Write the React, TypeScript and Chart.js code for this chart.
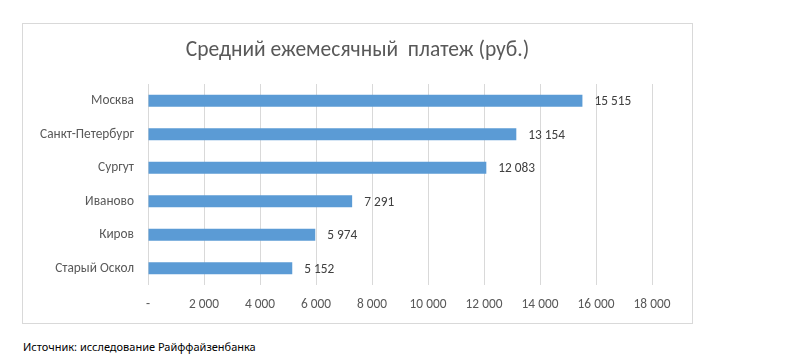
import React, { useEffect, useRef } from "react";
import { Chart, registerables } from "chart.js";

Chart.register(...registerables);

const categories = ["Москва", "Санкт-Петербург", "Сургут", "Иваново", "Киров", "Старый Оскол"];
const values = [15515, 13154, 12083, 7291, 5974, 5152];
const axisMin = 0;
const axisMax = 18000;
const axisStep = 2000;
const titleText = "Средний ежемесячный  платеж (руб.)";
const sourceText = "Источник: исследование Райффайзенбанка";

const FONT = "Calibri, Carlito, 'Open Sans', sans-serif";

const fmt = (v: number) => (v === 0 ? "-" : String(Math.round(v)).replace(/\B(?=(\d{3})+(?!\d))/g, " "));

const dataLabels = {
  id: "dataLabels",
  afterDatasetsDraw(chart: any) {
    const ctx = chart.ctx;
    const meta = chart.getDatasetMeta(0);
    ctx.save();
    ctx.font = `13.33px ${FONT}`;
    ctx.fillStyle = "#404040";
    ctx.textAlign = "left";
    ctx.textBaseline = "middle";
    meta.data.forEach((bar: any, i: number) => {
      ctx.fillText(fmt(values[i]), bar.x + 12, bar.y + 1);
    });
    ctx.restore();
  },
};

const centeredTitle = {
  id: "centeredTitle",
  afterDraw(chart: any) {
    const ctx = chart.ctx;
    ctx.save();
    ctx.font = `21.5px ${FONT}`;
    ctx.fillStyle = "#595959";
    ctx.textAlign = "center";
    ctx.textBaseline = "middle";
    ctx.fillText(titleText, chart.width / 2, 27);
    ctx.restore();
  },
};

export default function App() {
  const ref = useRef<HTMLCanvasElement | null>(null);
  useEffect(() => {
    if (!ref.current) return;
    const chart = new Chart(ref.current, {
      type: "bar",
      data: {
        labels: categories,
        datasets: [
          {
            data: values,
            backgroundColor: "#5B9BD5",
            categoryPercentage: 1,
            barPercentage: 0.36,
          },
        ],
      },
      options: {
        indexAxis: "y",
        animation: false,
        responsive: false,
        maintainAspectRatio: false,
        layout: { padding: { left: 0, right: 40, top: 60, bottom: 0 } },
        plugins: {
          legend: { display: false },
          tooltip: { enabled: false },
          title: { display: false },
        },
        scales: {
          x: {
            min: axisMin,
            max: axisMax,
            ticks: {
              stepSize: axisStep,
              color: "#595959",
              font: { family: FONT, size: 13.33 },
              padding: 12,
              callback: (v: any) => fmt(Number(v)),
              maxRotation: 0,
            },
            grid: { color: "#D9D9D9", drawTicks: false },
            border: { display: false },
            afterFit: (s: any) => {
              s.height = 38;
            },
          },
          y: {
            ticks: {
              color: "#595959",
              font: { family: FONT, size: 13.33 },
              padding: 14,
            },
            grid: { display: false, drawTicks: false },
            border: { display: false },
            afterFit: (s: any) => {
              s.width = 125;
            },
          },
        },
      },
      plugins: [dataLabels, centeredTitle],
    });
    return () => chart.destroy();
  }, []);

  return (
    <div style={{ position: "fixed", left: 0, top: 0, width: 792, height: 358, background: "#fff" }}>
      <div
        style={{
          position: "absolute",
          left: 22,
          top: 23,
          width: 671,
          height: 301,
          border: "1px solid #D9D9D9",
          boxSizing: "border-box",
        }}
      >
        <canvas ref={ref} width={669} height={299} style={{ display: "block" }} />
      </div>
      <div
        style={{
          position: "absolute",
          left: 23,
          top: 339,
          fontFamily: "'Noto Sans', sans-serif",
          fontSize: 11,
          lineHeight: "15px",
          color: "#000",
          whiteSpace: "nowrap",
        }}
      >
        {sourceText}
      </div>
    </div>
  );
}
